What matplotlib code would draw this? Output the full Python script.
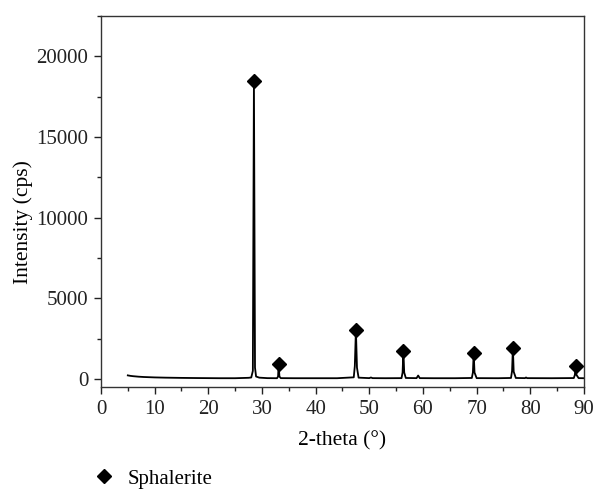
import matplotlib
matplotlib.use("Agg")
import matplotlib.pyplot as plt
from matplotlib.lines import Line2D
from matplotlib.ticker import MultipleLocator

plt.rcParams['font.family'] = ['Liberation Serif', 'DejaVu Serif']

# XRD trace vertices (2-theta in degrees, intensity in cps)
two_theta = [5.0, 5.5, 6.0, 7.0, 8.0, 10.0, 12.0, 15.0, 18.0, 20.0, 22.0, 25.0, 26.5, 27.5, 28.0,
             28.3, 28.5, 28.7, 28.9, 29.5, 31.0, 32.8,
             33.0, 33.1, 33.25, 33.5, 36.0, 40.0, 44.0, 47.1,
             47.3, 47.5, 47.7, 48.0, 50.0, 50.3, 50.6, 53.0, 56.0,
             56.2, 56.35, 56.5, 56.8, 58.8, 59.1, 59.4, 62.0, 66.0, 69.1,
             69.3, 69.45, 69.6, 70.0, 74.0, 76.4,
             76.6, 76.75, 76.9, 77.3, 79.0, 79.2, 79.4, 84.0, 88.1,
             88.3, 88.45, 88.6, 89.0, 90.0]
intensity = [220, 190, 170, 140, 120, 95, 80, 65, 55, 50, 45, 45, 60, 70, 90,
             500, 18500, 700, 150, 80, 50, 45,
             150, 930, 150, 50, 45, 45, 45, 100,
             800, 3040, 700, 80, 50, 90, 50, 45, 50,
             400, 1740, 400, 60, 50, 210, 50, 45, 45, 60,
             400, 1615, 400, 50, 45, 60,
             500, 1925, 450, 60, 50, 90, 50, 45, 55,
             250, 810, 250, 50, 45]

# Sphalerite peak markers
marker_theta = [28.5, 33.1, 47.5, 56.35, 69.45, 76.75, 88.45]
marker_int = [18500, 930, 3040, 1740, 1615, 1925, 810]

x_ticks = [0, 10, 20, 30, 40, 50, 60, 70, 80, 90]
y_ticks = [0, 5000, 10000, 15000, 20000]

fig = plt.figure(figsize=(5.95, 4.91), dpi=100)
ax = fig.add_axes([0.1697, 0.2118, 0.8118, 0.7556])

ax.plot(two_theta, intensity, color='black', lw=1.3)
ax.plot(marker_theta, marker_int, ls='none', marker='D', ms=7.3, color='black')

ax.set_xlim(0, 90)
ax.set_ylim(-500, 22500)
ax.set_xticks(x_ticks)
ax.set_yticks(y_ticks)
ax.xaxis.set_minor_locator(MultipleLocator(5))
ax.yaxis.set_minor_locator(MultipleLocator(2500))
ax.tick_params(which='major', direction='out', length=5, width=1, labelsize=15, colors='#222222', pad=4)
ax.tick_params(which='minor', direction='out', length=2.7, width=1, colors='#222222')
for s in ax.spines.values():
    s.set_color('#333333')
    s.set_linewidth(1)

ax.set_xlabel('2-theta (°)', fontsize=15.5, labelpad=9)
ax.set_ylabel('Intensity (cps)', fontsize=15.5)
ax.yaxis.set_label_coords(-0.141, 0.445)

handle = Line2D([], [], ls='none', marker='D', ms=7.3, color='black')
fig.legend(handles=[handle], labels=['Sphalerite'], loc='center left',
           bbox_to_anchor=(0.123, 0.0245), frameon=False, fontsize=15,
           handlelength=1.2, handletextpad=0.5)

fig.savefig('out.png', dpi=100)
